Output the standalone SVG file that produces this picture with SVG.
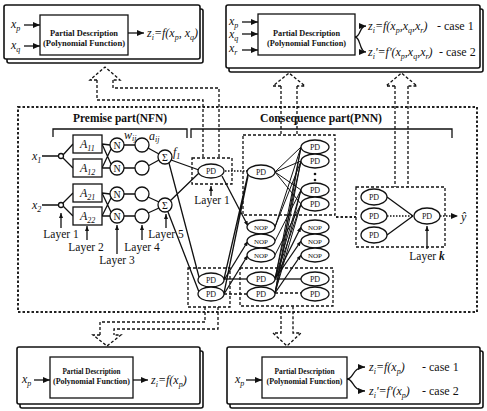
<svg xmlns="http://www.w3.org/2000/svg" width="487" height="411" viewBox="0 0 487 411">
<defs>
<marker id="ah" markerUnits="userSpaceOnUse" markerWidth="7" markerHeight="6" refX="7" refY="3" orient="auto"><path d="M0,0 L7,3 L0,6 z" fill="#111"/></marker>
<marker id="ahs" markerUnits="userSpaceOnUse" markerWidth="5" markerHeight="4" refX="5" refY="2" orient="auto"><path d="M0,0 L5,2 L0,4 z" fill="#111"/></marker>
<style>
.ln{stroke:#111;stroke-width:1.3;fill:none}
.thin{stroke:#111;stroke-width:1;fill:none}
.dsh{stroke:#111;stroke-width:1.3;fill:none;stroke-dasharray:3 2}
.dot{stroke:#111;stroke-width:1.3;fill:none;stroke-dasharray:1.5 1.5}
.big{stroke:#222;stroke-width:2;fill:none;stroke-dasharray:2.5 2}
.nd{fill:#fff;stroke:#111;stroke-width:1.3}
.slab{fill:#fff;stroke:#111;stroke-width:1.6}
.t{font-family:"Liberation Serif",serif;fill:#111}
.m{font-family:"Liberation Serif",serif;font-style:italic;font-size:12px;fill:#111}
.pd{font-family:"Liberation Serif",serif;font-size:8px;fill:#111;text-anchor:middle}
.nop{font-family:"Liberation Serif",serif;font-size:7px;fill:#111;text-anchor:middle}
.bx{font-family:"Liberation Serif",serif;font-weight:bold;font-size:7.5px;fill:#111;text-anchor:middle}
.lay{font-family:"Liberation Serif",serif;font-size:11.5px;fill:#111;text-anchor:middle}
.sb{font-size:8px}
</style>
</defs>
<rect width="487" height="411" fill="#fff"/>

<!-- Partial description boxes -->
<g id="pd-box-top-left">
<rect class="slab" x="7" y="9" width="196" height="54" rx="2"/>
<rect class="slab" x="4" y="5" width="196" height="54" rx="2"/>
<rect class="ln" x="40" y="15" width="88" height="40" fill="#fff"/>
<text class="bx" x="84" y="35.5" textLength="68" lengthAdjust="spacingAndGlyphs">Partial Description</text>
<text class="bx" x="84" y="45.5" textLength="82" lengthAdjust="spacingAndGlyphs">(Polynomial Function)</text>
<text class="m" x="11" y="28">x<tspan class="sb" dy="2.5">p</tspan></text>
<text class="m" x="11" y="49">x<tspan class="sb" dy="2.5">q</tspan></text>
<path class="ln" d="M24,25 H40" marker-end="url(#ah)"/>
<path class="ln" d="M24,46 H40" marker-end="url(#ah)"/>
<path class="ln" d="M128,33 H144" marker-end="url(#ah)"/>
<text class="m" x="147" y="37">z<tspan class="sb" dy="2.5">i</tspan><tspan dy="-2.5">=f(x</tspan><tspan class="sb" dy="2.5">p</tspan><tspan dy="-2.5">, x</tspan><tspan class="sb" dy="2.5">q</tspan><tspan dy="-2.5">)</tspan></text>
</g>

<g id="pd-box-top-right">
<rect class="slab" x="229" y="9" width="254" height="63" rx="2"/>
<rect class="slab" x="226" y="5" width="254" height="63" rx="2"/>
<rect class="ln" x="258" y="14" width="97" height="41" fill="#fff"/>
<text class="bx" x="306.5" y="35.5" textLength="67" lengthAdjust="spacingAndGlyphs">Partial Description</text>
<text class="bx" x="306.5" y="45.5" textLength="79" lengthAdjust="spacingAndGlyphs">(Polynomial Function)</text>
<text class="m" x="229" y="25">x<tspan class="sb" dy="2.5">p</tspan></text>
<text class="m" x="229" y="38">x<tspan class="sb" dy="2.5">q</tspan></text>
<text class="m" x="229" y="52">x<tspan class="sb" dy="2.5">r</tspan></text>
<path class="ln" d="M242,22 H258" marker-end="url(#ah)"/>
<path class="ln" d="M242,34 H258" marker-end="url(#ah)"/>
<path class="ln" d="M242,50 H258" marker-end="url(#ah)"/>
<path class="ln" d="M355,37 C361,37 359,26 366,26" marker-end="url(#ah)"/>
<path class="ln" d="M355,37 C361,37 359,52 366,52" marker-end="url(#ah)"/>
<text class="m" x="368" y="30">z<tspan class="sb" dy="2.5">i</tspan><tspan dy="-2.5">=f(x</tspan><tspan class="sb" dy="2.5">p</tspan><tspan dy="-2.5">,x</tspan><tspan class="sb" dy="2.5">q</tspan><tspan dy="-2.5">,x</tspan><tspan class="sb" dy="2.5">r</tspan><tspan dy="-2.5">)</tspan></text>
<text class="t" x="437" y="30" font-size="12">- case 1</text>
<text class="m" x="368" y="56">z<tspan class="sb" dy="2.5">i</tspan><tspan dy="-2.5">'=f'(x</tspan><tspan class="sb" dy="2.5">p</tspan><tspan dy="-2.5">,x</tspan><tspan class="sb" dy="2.5">q</tspan><tspan dy="-2.5">,x</tspan><tspan class="sb" dy="2.5">r</tspan><tspan dy="-2.5">)</tspan></text>
<text class="t" x="439" y="56" font-size="12">- case 2</text>
</g>

<g id="pd-box-bottom-left">
<rect class="slab" x="20" y="351" width="183" height="57" rx="2"/>
<rect class="slab" x="17" y="347" width="183" height="57" rx="2"/>
<rect class="ln" x="50" y="357" width="83" height="41" fill="#fff"/>
<text class="bx" x="91.5" y="374" textLength="58" lengthAdjust="spacingAndGlyphs">Partial Description</text>
<text class="bx" x="91.5" y="384" textLength="77" lengthAdjust="spacingAndGlyphs">(Polynomial Function)</text>
<text class="m" x="22" y="383">x<tspan class="sb" dy="2.5">p</tspan></text>
<path class="ln" d="M34,380 H50" marker-end="url(#ah)"/>
<path class="ln" d="M133,380 H148" marker-end="url(#ah)"/>
<text class="m" x="151" y="384">z<tspan class="sb" dy="2.5">i</tspan><tspan dy="-2.5">=f(x</tspan><tspan class="sb" dy="2.5">p</tspan><tspan dy="-2.5">)</tspan></text>
</g>

<g id="pd-box-bottom-right">
<rect class="slab" x="230" y="351" width="253" height="57" rx="2"/>
<rect class="slab" x="227" y="347" width="253" height="57" rx="2"/>
<rect class="ln" x="262" y="357" width="85" height="41" fill="#fff"/>
<text class="bx" x="304.5" y="374" textLength="60" lengthAdjust="spacingAndGlyphs">Partial Description</text>
<text class="bx" x="304.5" y="384" textLength="76" lengthAdjust="spacingAndGlyphs">(Polynomial Function)</text>
<text class="m" x="235" y="383">x<tspan class="sb" dy="2.5">p</tspan></text>
<path class="ln" d="M246,380 H262" marker-end="url(#ah)"/>
<path class="ln" d="M347,379 C354,379 352,367 365,367" marker-end="url(#ah)"/>
<path class="ln" d="M347,379 C354,379 352,391 365,391" marker-end="url(#ah)"/>
<text class="m" x="369" y="371">z<tspan class="sb" dy="2.5">i</tspan><tspan dy="-2.5">=f(x</tspan><tspan class="sb" dy="2.5">p</tspan><tspan dy="-2.5">)</tspan></text>
<text class="t" x="422" y="371" font-size="12">- case 1</text>
<text class="m" x="369" y="395">z<tspan class="sb" dy="2.5">i</tspan><tspan dy="-2.5">'=f'(x</tspan><tspan class="sb" dy="2.5">p</tspan><tspan dy="-2.5">)</tspan></text>
<text class="t" x="422" y="395" font-size="12">- case 2</text>
</g>

<!-- main frame -->
<g id="main-frame">
<rect class="big" x="18" y="107" width="459" height="205"/>
<text class="t" x="120" y="122" font-size="13" font-weight="bold" text-anchor="middle" textLength="94" lengthAdjust="spacingAndGlyphs">Premise part(NFN)</text>
<text class="t" x="321" y="122" font-size="13" font-weight="bold" text-anchor="middle" textLength="122" lengthAdjust="spacingAndGlyphs">Consequence part(PNN)</text>
<path class="ln" d="M53,137 V129 H187 V138"/>
<path class="ln" d="M191,138 V129 H452 V138"/>
</g>

<!-- dashed group boxes -->
<g id="group-boxes">
<rect class="dsh" x="192" y="158" width="40" height="26"/>
<rect class="dsh" x="243" y="135" width="92" height="80"/>
<rect class="dsh" x="188" y="268" width="42" height="39"/>
<rect class="dsh" x="240" y="268" width="93" height="38"/>
<rect class="dsh" x="356" y="187" width="89" height="60"/>
</g>

<!-- connectors -->
<g id="connectors">
<path class="dsh" d="M97,80 H90 L105,67 L120,80 H113"/>
<path class="dsh" d="M97,80 V100 H203 V158"/>
<path class="dsh" d="M113,80 V88 H219 V158"/>
<path class="dsh" d="M281,86 H273 L289,73 L305,86 H297"/>
<path class="dsh" d="M281,86 V135 M297,86 V135"/>
<path class="dsh" d="M395,86 H386 L401.5,73 L417,86 H408"/>
<path class="dsh" d="M395,86 V187 M408,86 V187"/>
<path class="dsh" d="M205,307 V322 H100 V335"/>
<path class="dsh" d="M218,307 V329 H114 V335"/>
<path class="dsh" d="M100,335 H93 L107,346 L121,335 H114"/>
<path class="dsh" d="M281,306 V333 H273 L287,346 L301,333 H293 V306"/>

<path class="ln" d="M42,156 H58.5 M42,205 H58.5"/>
<path class="ln" d="M63,155 L73,144 M63,158 L73,168 M63,203 L73,193 M63,206 L73,216"/>
<path class="ln" d="M102,144 L110,145 M102,144 L111,164 M102,168 L111,149 M102,168 L110,168"/>
<path class="ln" d="M102,193 L110,194 M102,193 L111,212 M102,216 L111,198 M102,216 L110,216"/>
<path class="ln" d="M124,145 H135 M124,168 H135 M124,194 H135 M124,216 H135"/>
<path class="ln" d="M148,148 L159,154 M148,166 L159,160 M148,197 L159,202 M148,213 L159,208"/>
<path class="ln" d="M171,160 L199,170 M170,201 L199,173 M169,163 L199,277 M168,212 L199,292"/>
<path class="dot" d="M225,171 H247"/>
<path class="ln" d="M224,279 L248,174 M224,293 L248,176"/>
<path class="ln" d="M222,176 L248,226" marker-end="url(#ahs)"/>
<path class="ln" d="M224,280 L248,241" marker-end="url(#ahs)"/>
<path class="ln" d="M224,294 L248,255" marker-end="url(#ahs)"/>
<path class="ln" d="M224,279 H247"/>
<path class="dsh" d="M224,294 H247"/>
<path class="thin" d="M275,172 L301,147 M275,172 L301,161 M275,172 L301,190 M275,172 L301,204"/>
<path class="thin" d="M275,227 L301,161 M275,241 L301,190 M275,255 L301,204 M275,227 L301,147"/>
<path class="thin" d="M275,279 L301,147 M275,279 L301,161 M275,279 L301,190 M275,279 L301,204"/>
<path class="thin" d="M275,293 L301,147 M275,293 L301,161 M275,293 L301,190 M275,293 L301,204"/>
<path class="ln" d="M275,279 L301,227" marker-end="url(#ahs)"/>
<path class="ln" d="M275,279 L301,241" marker-end="url(#ahs)"/>
<path class="ln" d="M275,293 L301,255" marker-end="url(#ahs)"/>
<path class="ln" d="M275,279 H301"/>
<path class="dsh" d="M275,293 H301"/>
<path class="big" d="M336,217 H356"/>
<path class="ln" d="M387,197 L413,216 M387,235 L413,216"/>
<path class="dot" d="M387,216 H414"/>
<path class="dot" d="M440,216 H458" marker-end="url(#ah)"/>
<path class="ln" d="M61,228 V213" marker-end="url(#ahs)"/>
<path class="ln" d="M87,240 V226" marker-end="url(#ahs)"/>
<path class="ln" d="M117,254 V225" marker-end="url(#ahs)"/>
<path class="ln" d="M142,240 V225" marker-end="url(#ahs)"/>
<path class="ln" d="M166,228 V214" marker-end="url(#ahs)"/>
<path class="ln" d="M211,196 V186" marker-end="url(#ahs)"/>
<path class="ln" d="M427,249 V226" marker-end="url(#ahs)"/>
</g>

<g id="x1"><text class="m" x="32" y="160">x<tspan class="sb" dy="2.5">1</tspan></text><circle class="nd" cx="61" cy="156" r="2.5"/></g>
<g id="x2"><text class="m" x="32" y="209">x<tspan class="sb" dy="2.5">2</tspan></text><circle class="nd" cx="61" cy="205" r="2.5"/></g>
<g id="A11"><rect class="nd" x="73" y="135" width="29" height="18"/><text class="m" x="80" y="148">A<tspan class="sb" dy="3">11</tspan></text></g>
<g id="A12"><rect class="nd" x="73" y="159" width="29" height="18"/><text class="m" x="80" y="172">A<tspan class="sb" dy="3">12</tspan></text></g>
<g id="A21"><rect class="nd" x="73" y="184" width="29" height="18"/><text class="m" x="80" y="197">A<tspan class="sb" dy="3">21</tspan></text></g>
<g id="A22"><rect class="nd" x="73" y="207" width="29" height="18"/><text class="m" x="80" y="220">A<tspan class="sb" dy="3">22</tspan></text></g>
<g id="N1"><circle class="nd" cx="117" cy="145" r="7"/><text class="t" x="117" y="148.5" font-size="10" text-anchor="middle">N</text></g>
<g id="N2"><circle class="nd" cx="117" cy="168" r="7"/><text class="t" x="117" y="171.5" font-size="10" text-anchor="middle">N</text></g>
<g id="N3"><circle class="nd" cx="117" cy="194" r="7"/><text class="t" x="117" y="197.5" font-size="10" text-anchor="middle">N</text></g>
<g id="N4"><circle class="nd" cx="117" cy="216" r="7"/><text class="t" x="117" y="219.5" font-size="10" text-anchor="middle">N</text></g>
<g id="C1"><circle class="nd" cx="142" cy="145" r="7"/></g>
<g id="C2"><circle class="nd" cx="142" cy="168" r="7"/></g>
<g id="C3"><circle class="nd" cx="142" cy="194" r="7"/></g>
<g id="C4"><circle class="nd" cx="142" cy="216" r="7"/></g>
<g id="S1"><circle class="nd" cx="165" cy="157" r="7"/><text class="t" x="165" y="160.5" font-size="10" text-anchor="middle">Σ</text></g>
<g id="S2"><circle class="nd" cx="165" cy="205" r="7"/><text class="t" x="165" y="208.5" font-size="10" text-anchor="middle">Σ</text></g>
<g id="weights">
<text class="m" x="124" y="139" font-size="10">w<tspan class="sb" dy="2" font-size="7">ij</tspan></text>
<text class="m" x="149" y="140" font-size="10">a<tspan class="sb" dy="2" font-size="7">ij</tspan></text>
<text class="m" x="173" y="156" font-size="11">f<tspan class="sb" dy="2.5">1</tspan></text>
</g>
<g id="premise-layer-labels">
<text class="lay" x="61" y="238">Layer 1</text>
<text class="lay" x="86" y="251">Layer 2</text>
<text class="lay" x="117" y="264">Layer 3</text>
<text class="lay" x="142" y="251">Layer 4</text>
<text class="lay" x="166" y="238">Layer 5</text>
</g>

<g id="L1-PD1"><ellipse class="nd" cx="211" cy="171" rx="13" ry="7"/><text class="pd" x="211" y="174">PD</text></g>
<g id="L1-PD2"><ellipse class="nd" cx="211" cy="280" rx="13" ry="7"/><text class="pd" x="211" y="283">PD</text></g>
<g id="L1-PD3"><ellipse class="nd" cx="211" cy="294" rx="13" ry="7"/><text class="pd" x="211" y="297">PD</text></g>
<g id="L1-label"><text class="lay" x="212" y="204">Layer 1</text></g>

<g id="L2-B-PD1"><ellipse class="nd" cx="261" cy="172" rx="14" ry="7"/><text class="pd" x="261" y="175">PD</text></g>
<g id="L2-B-NOP1"><ellipse class="nd" cx="261" cy="227" rx="14" ry="7"/><text class="nop" x="261" y="229.5">NOP</text></g>
<g id="L2-B-NOP2"><ellipse class="nd" cx="261" cy="241" rx="14" ry="7"/><text class="nop" x="261" y="243.5">NOP</text></g>
<g id="L2-B-NOP3"><ellipse class="nd" cx="261" cy="255" rx="14" ry="7"/><text class="nop" x="261" y="257.5">NOP</text></g>
<g id="L2-B-PD2"><ellipse class="nd" cx="261" cy="279" rx="14" ry="7"/><text class="pd" x="261" y="282">PD</text></g>
<g id="L2-B-PD3"><ellipse class="nd" cx="261" cy="294" rx="14" ry="7"/><text class="pd" x="261" y="297">PD</text></g>

<g id="L2-C-PD1"><ellipse class="nd" cx="315" cy="147" rx="14" ry="7"/><text class="pd" x="315" y="150">PD</text></g>
<g id="L2-C-PD2"><ellipse class="nd" cx="315" cy="161" rx="14" ry="7"/><text class="pd" x="315" y="164">PD</text></g>
<g id="L2-C-dots"><circle cx="315" cy="174" r="1.3" fill="#111"/><circle cx="315" cy="180" r="1.3" fill="#111"/></g>
<g id="L2-C-PD3"><ellipse class="nd" cx="315" cy="190" rx="14" ry="7"/><text class="pd" x="315" y="193">PD</text></g>
<g id="L2-C-PD4"><ellipse class="nd" cx="315" cy="204" rx="14" ry="7"/><text class="pd" x="315" y="207">PD</text></g>
<g id="L2-C-NOP1"><ellipse class="nd" cx="315" cy="227" rx="14" ry="7"/><text class="nop" x="315" y="229.5">NOP</text></g>
<g id="L2-C-NOP2"><ellipse class="nd" cx="315" cy="241" rx="14" ry="7"/><text class="nop" x="315" y="243.5">NOP</text></g>
<g id="L2-C-NOP3"><ellipse class="nd" cx="315" cy="255" rx="14" ry="7"/><text class="nop" x="315" y="257.5">NOP</text></g>
<g id="L2-C-PD5"><ellipse class="nd" cx="315" cy="279" rx="14" ry="7"/><text class="pd" x="315" y="282">PD</text></g>
<g id="L2-C-PD6"><ellipse class="nd" cx="315" cy="294" rx="14" ry="7"/><text class="pd" x="315" y="297">PD</text></g>

<g id="Lk-PD1"><ellipse class="nd" cx="374" cy="197" rx="13" ry="8"/><text class="pd" x="374" y="200">PD</text></g>
<g id="Lk-PD2"><ellipse class="nd" cx="374" cy="216" rx="13" ry="8"/><text class="pd" x="374" y="219">PD</text></g>
<g id="Lk-PD3"><ellipse class="nd" cx="374" cy="235" rx="13" ry="8"/><text class="pd" x="374" y="238">PD</text></g>
<g id="Lk-out"><ellipse class="nd" cx="427" cy="216" rx="13" ry="8"/><text class="pd" x="427" y="219">PD</text></g>
<g id="Lk-label"><text class="lay" x="427" y="260">Layer <tspan font-style="italic" font-weight="bold">k</tspan></text></g>
<g id="y-hat"><text class="m" x="461" y="221" font-size="14">ŷ</text></g>
</svg>
